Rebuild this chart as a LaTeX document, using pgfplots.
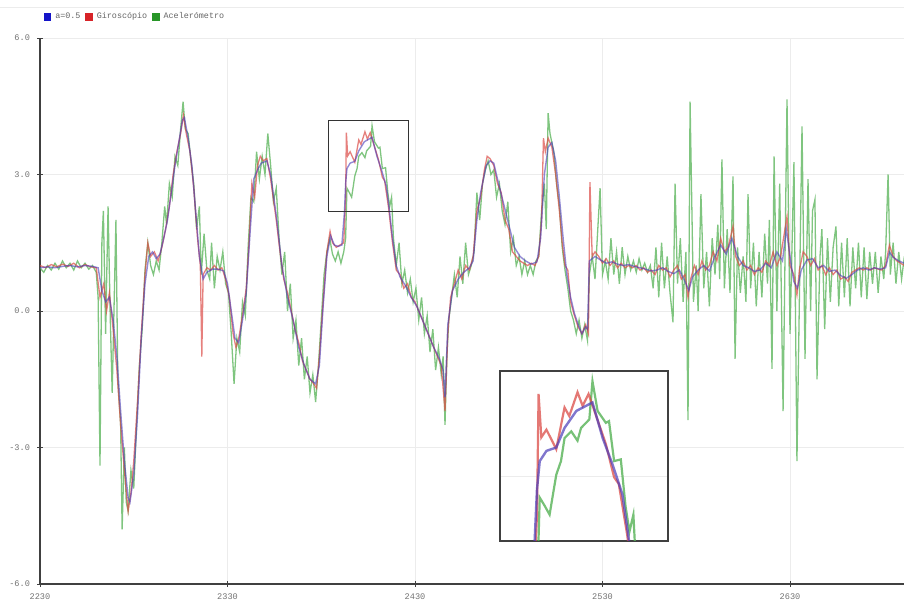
\documentclass[border=0pt]{standalone}
\usepackage{fontspec}
\setmainfont{Liberation Mono}
\usepackage{pgfplots}
\pgfplotsset{compat=1.18}
\usepackage{pgfplotstable}
\definecolor{cblue}{RGB}{75,60,185}
\definecolor{cred}{RGB}{220,75,70}
\definecolor{cgreen}{RGB}{85,178,85}
\definecolor{lblue}{RGB}{20,20,200}
\definecolor{lred}{RGB}{215,35,40}
\definecolor{lgreen}{RGB}{40,150,40}
\definecolor{gridc}{RGB}{236,236,236}

\pgfplotstableread{
x y
2230 0.95
2234 0.97
2238 0.95
2242 0.98
2246 1.0
2250 0.97
2254 1.0
2258 0.98
2261 0.95
2263 0.45
2265 0.2
2267 0.3
2269 -0.2
2271 -1.0
2273 -2.2
2275 -3.3
2277 -4.1
2278 -4.2
2280 -3.6
2282 -2.3
2284 -0.6
2286 0.6
2288 1.2
2290 1.3
2292 1.15
2294 1.25
2296 1.6
2298 2.0
2300 2.6
2302 3.2
2304 3.7
2306 4.2
2307 4.25
2309 3.8
2311 3.2
2313 2.2
2315 1.2
2317 0.7
2319 0.85
2322 0.92
2325 0.92
2328 0.88
2330 0.6
2332 0.0
2334 -0.6
2336 -0.7
2338 -0.2
2340 0.4
2342 1.7
2344 2.9
2346 3.1
2348 3.25
2351 3.3
2353 3.0
2356 2.1
2359 1.0
2362 0.3
2365 -0.2
2368 -0.8
2371 -1.2
2374 -1.5
2377 -1.6
2379 -1.2
2381 0.1
2383 1.2
2385 1.65
2387 1.45
2389 1.42
2391 1.45
2392.4 2.19
2393 2.8
2393.7 3.13
2395.4 3.25
2397.9 3.29
2400 3.52
2403 3.72
2406.3 3.8
2407.1 3.82
2409.7 3.4
2412.2 3.09
2414.7 2.74
2416.4 2.19
2418 1.6
2420 1.0
2422 0.75
2425 0.55
2428 0.3
2431 0.1
2434 -0.2
2437 -0.5
2440 -0.8
2443 -1.05
2445 -1.3
2446 -1.9
2447.5 -0.3
2450 0.45
2453 0.7
2456 0.85
2459 0.95
2461 1.1
2463 2.0
2465 2.6
2468 3.2
2470 3.3
2472 3.25
2474 2.9
2477 2.4
2480 1.9
2483 1.4
2486 1.2
2489 1.1
2492 1.03
2495 1.08
2497 1.6
2499 3.0
2501 3.6
2503 3.7
2505 3.3
2507 2.5
2509 1.6
2511 0.8
2513 0.3
2515 -0.05
2517 -0.3
2519 -0.5
2521 -0.35
2522 -0.4
2523 1.1
2526 1.2
2529 1.12
2532 1.05
2535 1.08
2538 1.03
2541 1.0
2544 1.02
2547 0.98
2550 0.95
2553 0.92
2556 0.88
2559 0.9
2562 0.95
2565 0.87
2568 0.82
2571 0.9
2574 0.65
2576 0.45
2578 0.75
2581 0.9
2584 1.0
2587 0.88
2590 1.2
2593 1.45
2596 1.25
2599 1.6
2602 1.2
2605 1.0
2608 0.95
2611 0.87
2614 0.9
2617 1.05
2620 0.95
2623 1.3
2626 1.1
2628 1.8
2630 1.2
2632 0.65
2634 0.5
2636 0.9
2639 1.12
2642 1.15
2645 0.95
2648 1.0
2651 0.87
2654 0.9
2657 0.78
2660 0.72
2663 0.8
2666 0.9
2669 0.95
2672 0.9
2675 0.95
2678 0.92
2681 0.95
2683 1.3
2685 1.18
2688 1.1
2691 1.05
}\datablue

\pgfplotstableread{
x y
2230 1.0
2233 0.95
2236 1.02
2239 0.97
2242 1.03
2245 0.98
2248 1.05
2251 0.95
2254 1.02
2257 0.97
2260 0.95
2262 0.3
2264 0.6
2265.5 0.0
2267 0.4
2269 -0.4
2271 -1.3
2273 -2.5
2275 -3.5
2277 -4.4
2278.5 -4.0
2280 -3.3
2282 -2.0
2284 -0.5
2286 0.8
2287.5 1.5
2289 1.2
2291 1.3
2293 1.1
2295 1.4
2297 1.8
2299 2.3
2301 3.0
2303 3.5
2305 3.9
2306.5 4.3
2308 3.9
2310 3.5
2312 2.7
2314 1.6
2315.5 1.0
2316.3 -1.0
2317 0.8
2319 0.95
2321 0.9
2323 1.0
2325 0.9
2327 0.95
2329 0.7
2331 0.3
2333 -0.5
2334.5 -0.8
2336 -0.6
2338 -0.1
2340 0.5
2341.5 1.5
2343 2.8
2344.5 2.5
2346 3.2
2347.5 3.4
2349 3.3
2351 3.35
2353 2.9
2356 2.0
2358 1.3
2360 0.7
2362 0.4
2364 0.0
2366 -0.4
2368 -0.7
2370 -1.1
2372 -1.3
2374 -1.5
2376 -1.6
2377.5 -1.7
2379 -1.0
2381 0.2
2383 1.3
2384.7 1.75
2386 1.5
2388 1.4
2390 1.45
2392 1.5
2393 2.5
2393.4 3.92
2394.1 3.41
2395.4 3.5
2397.9 3.27
2400 3.76
2401.2 3.66
2403.3 3.94
2404.6 3.78
2406.1 3.92
2406.7 3.84
2408.5 3.6
2410.5 3.33
2412.6 2.94
2413.8 2.86
2415.9 2.27
2418 1.5
2420 0.9
2422 0.8
2424 0.5
2426 0.6
2428 0.3
2430 0.2
2432 0.0
2434 -0.2
2436 -0.4
2438 -0.6
2440 -0.8
2442 -1.0
2444 -1.2
2446 -2.2
2447.5 -0.5
2449 0.3
2451 0.6
2453 0.9
2455 0.7
2457 1.0
2459 0.9
2461 1.2
2463 2.2
2465 2.5
2467 3.1
2468.5 3.4
2470 3.35
2472 3.2
2474 2.8
2476 2.6
2478 2.0
2480 1.8
2482 1.3
2484 1.2
2486 1.1
2488 1.05
2490 1.0
2492 1.05
2494 1.0
2496 1.2
2497.5 2.0
2498.5 3.8
2499.5 3.5
2501 3.8
2503 3.6
2505 3.0
2507 2.2
2508.5 1.5
2510 1.0
2511.5 0.9
2513 0.2
2515 -0.1
2517 -0.35
2519 -0.5
2521 -0.3
2522.5 -0.5
2523.3 2.83
2524.5 1.2
2526 1.3
2528 1.2
2530 1.05
2532 1.15
2534 1.0
2536 1.1
2538 0.95
2540 1.05
2542 0.95
2544 1.0
2546 0.95
2548 1.0
2550 0.9
2552 0.95
2554 0.85
2556 0.9
2558 0.8
2560 1.0
2562 0.9
2564 0.95
2566 0.75
2568 0.9
2570 1.0
2572 0.7
2574 0.8
2575.6 0.3
2577 0.7
2579 1.0
2581 0.8
2583 1.1
2585 0.9
2587 1.0
2589 1.3
2591 1.1
2593 1.6
2595 1.3
2597 1.4
2599.6 1.86
2601 1.2
2603 1.0
2605 1.1
2607 0.9
2609 1.0
2611 0.8
2613 0.95
2615 0.85
2617 1.1
2619 1.0
2621 1.3
2623 1.0
2625 1.2
2628.4 2.08
2630 1.0
2632 0.8
2633.7 0.35
2635 0.9
2637 1.3
2639 1.2
2641 1.0
2643 1.15
2645 0.9
2647 1.0
2649 0.8
2651 0.95
2653 0.8
2655 0.9
2657 0.7
2659 0.75
2661 0.65
2663 0.85
2665 0.9
2667 0.95
2669 0.9
2671 0.95
2673 0.9
2675 0.95
2677 0.92
2679 0.9
2681 1.0
2683 1.45
2685 1.2
2687 1.1
2689 1.05
2691 1.0
}\datared

\pgfplotstableread{
x y
2230 0.95
2232 0.85
2234 1.0
2236 0.9
2238 1.05
2240 0.92
2242 1.1
2244 0.95
2246 1.05
2248 0.9
2250 1.1
2252 0.95
2254 1.05
2256 0.92
2258 1.0
2260 0.85
2261 0.3
2262 -3.4
2263 1.5
2263.8 2.2
2265 -0.5
2266.3 2.3
2267.5 -0.2
2268.5 -1.8
2270.5 2.0
2271.5 -1.5
2273 -2.5
2273.8 -4.8
2275 -3.0
2276 -4.2
2277 -4.4
2278.5 -3.5
2280 -3.9
2281.5 -2.5
2283 -1.2
2284.5 -0.4
2286 0.9
2287.5 1.5
2289 1.0
2290.5 0.8
2292 1.1
2293.5 0.9
2295 1.5
2296.5 2.3
2297.5 1.9
2299 2.8
2300.5 2.5
2302 3.4
2303.5 3.2
2305 4.0
2306.3 4.6
2307.5 4.0
2309 3.9
2310.5 3.3
2312 2.8
2313.5 1.8
2315 2.3
2316 0.8
2317.5 1.7
2319 0.9
2320.5 0.7
2321.5 1.5
2323 0.5
2324.5 1.2
2326 0.9
2327.5 1.3
2329 0.6
2330.5 0.4
2332 -0.5
2333.5 -1.6
2335 -0.6
2336.5 -0.9
2338 0.2
2339.5 -0.1
2341 1.4
2342.5 2.5
2344 2.4
2345.5 3.5
2347 2.9
2348.5 3.4
2350 3.0
2351.5 3.9
2353 3.2
2354.5 2.4
2356 2.7
2357.5 1.6
2359 0.8
2360.5 1.3
2362 0.0
2363.5 0.6
2365 -0.6
2366.5 -0.2
2368 -1.2
2369.5 -0.6
2371 -1.5
2372.5 -1.0
2374 -1.8
2375.5 -1.4
2377 -2.0
2378.5 -1.2
2380 -0.2
2381.5 0.8
2383 1.3
2384.5 1.6
2386 1.25
2387.5 1.1
2389 1.3
2390.5 1.05
2392 1.3
2393 1.6
2393.7 2.7
2395 2.6
2396.2 2.5
2397.9 2.97
2399.1 3.13
2400 3.4
2401.7 3.48
2403.3 3.37
2404.2 3.52
2406.3 3.62
2407.1 4.07
2408.4 3.72
2410.5 3.58
2411.3 3.6
2412.6 3.13
2414.3 3.15
2415.5 2.6
2416.5 2.3
2417.5 2.5
2418.5 1.6
2420 1.0
2421.5 1.5
2423 0.6
2424.5 0.9
2426 0.4
2427.5 0.7
2429 0.2
2430.5 0.5
2432 -0.2
2433.5 0.3
2435 -0.5
2436.5 -0.1
2438 -0.9
2439.5 -0.4
2441 -1.3
2442.5 -0.8
2444 -1.4
2445 -1.0
2446 -2.5
2447 -1.0
2448 -0.2
2449.5 0.3
2451 0.8
2452.5 0.3
2454 1.2
2455.5 0.6
2457 1.5
2458.5 0.8
2460 1.0
2461.5 1.3
2463 2.6
2464.5 2.0
2466 2.8
2467.5 3.1
2469 3.3
2470.5 3.0
2472 3.1
2473.5 2.5
2475 2.8
2476.5 2.2
2478 1.9
2479.5 2.4
2481 1.3
2482.5 1.6
2484 1.0
2485.5 1.2
2487 0.8
2488.5 1.1
2490 0.8
2491.5 1.0
2493 0.8
2494.5 1.1
2496 1.2
2497.5 2.2
2499 2.8
2500 1.8
2501 4.35
2502 3.9
2503 3.7
2504 3.5
2505.5 2.8
2507 2.3
2508.5 1.4
2510 0.9
2511.5 0.5
2513 0.0
2514.5 -0.2
2516 -0.5
2517.5 -0.2
2519 -0.6
2520.5 -0.3
2522 -0.65
2523 0.8
2524.5 1.2
2526 0.7
2528.7 2.7
2530 0.8
2531.5 1.1
2533 0.7
2534.5 1.6
2536 0.8
2537.5 1.3
2539 0.6
2540.5 1.4
2542 0.8
2543.5 1.2
2545 0.9
2546.5 1.1
2548 0.85
2549.5 1.15
2551 0.9
2552.5 1.05
2554 0.85
2555.5 1.0
2557 0.5
2558.5 1.4
2560 0.3
2561.5 1.5
2563 0.5
2564.5 1.2
2566 0.4
2567.6 -0.25
2568.7 2.8
2570 0.6
2571.5 1.6
2573 0.2
2574.5 1.3
2575.6 -2.4
2576.7 4.6
2578.5 0.2
2580 1.0
2581 0.0
2582.5 2.57
2584 0.5
2585.5 1.3
2587 0.1
2588.5 1.6
2590 0.8
2591.5 1.9
2592.5 0.7
2593.7 3.33
2595 0.5
2596.5 1.8
2598 0.4
2599.6 2.96
2600.7 -1.05
2602 1.4
2603.5 0.4
2605 1.2
2606.5 0.2
2607.6 2.57
2609 0.5
2610.5 1.5
2612 0.1
2613.5 1.3
2615 0.3
2616.5 1.7
2618 0.6
2619 2.0
2620.4 -1.27
2621.5 3.4
2623 0.0
2624.5 2.8
2626.3 -2.2
2628.4 4.65
2630 -0.5
2632.1 3.27
2633.7 -3.3
2636.4 4.06
2638 -1.05
2639.6 2.9
2641 0.0
2642 2.2
2643.3 2.45
2644.4 -1.5
2646 1.2
2647 1.8
2648.5 -0.4
2650 1.6
2651.5 0.2
2653 1.4
2654.5 1.86
2656 0.1
2657.5 1.5
2659 0.3
2660.5 1.6
2662 0.1
2663.5 1.4
2665 0.5
2666.5 1.5
2668 0.3
2669.5 1.4
2671 0.26
2672.5 1.3
2674 0.6
2675.5 1.3
2677 0.4
2678.5 1.2
2680 0.7
2681 1.3
2682.3 3.0
2683.5 0.8
2685 1.5
2686.5 0.6
2688 1.3
2689.5 0.7
2691 1.2
}\datagreen

\begin{document}
\begin{tikzpicture}
\useasboundingbox (0,0) rectangle (452pt,301.5pt);
\fill[white] (0,0) rectangle (452pt,301.5pt);
\draw[gridc, line width=0.5pt] (0,297.8pt) -- (452pt,297.8pt);
\begin{axis}[
  at={(20pt,9.5pt)}, anchor=south west,
  scale only axis, width=432pt, height=273pt,
  xmin=2230, xmax=2690.8, ymin=-6, ymax=6,
  axis lines=left,
  axis line style={-, black!75, line width=0.6pt},
  xtick={2230,2330,2430,2530,2630},
  ytick={-6,-3,0,3,6},
  grid=major, grid style={gridc, line width=0.4pt},
  tick align=center, major tick length=3pt,
  tick style={black!75, line width=0.4pt},
  tick label style={font=\fontsize{4.3}{5}\selectfont, text=black!55},
  /pgf/number format/assume math mode=true,
  x tick label style={/pgf/number format/1000 sep={}},
  y tick label style={/pgf/number format/.cd, fixed, fixed zerofill, precision=1},
  legend image code/.code={\fill[#1] (0pt,-1.5pt) rectangle (3.3pt,1.8pt);},
  legend style={at={(axis description cs:0.004,1)}, anchor=south west, yshift=6pt,
    draw=none, fill=none, inner sep=0pt, text=black!60, font=\fontsize{4.2}{5}\selectfont,
    /tikz/every even column/.append style={column sep=0.5pt}},
  legend columns=-1,
  clip=true,
]
\addlegendimage{lblue}\addlegendentry{a=0.5}
\addlegendimage{lred}\addlegendentry{Giroscópio}
\addlegendimage{lgreen}\addlegendentry{Acelerómetro}
\addplot[forget plot, cgreen, opacity=0.75, line width=0.65pt] table {\datagreen};
\addplot[forget plot, cred, opacity=0.7, line width=0.65pt] table {\datared};
\addplot[forget plot, cblue, opacity=0.6, line width=0.7pt] table {\datablue};
\draw[black!80, line width=0.5pt] (axis cs:2383.6,2.19) rectangle (axis cs:2426.3,4.19);
\end{axis}
\begin{axis}[
  at={(250pt,31pt)}, anchor=south west,
  scale only axis, width=84pt, height=85pt,
  xmin=2383.6, xmax=2426.3, ymin=2.19, ymax=4.19,
  xtick=\empty, ytick={2.95}, yticklabels={}, major tick length=0pt,
  ymajorgrids, grid style={gridc, line width=0.5pt},
  axis background/.style={fill=white},
  axis line style={black!75, line width=0.6pt},
  clip=true,
]
\addplot[cgreen, opacity=0.8, line width=1.1pt] table {\datagreen};
\addplot[cred, opacity=0.75, line width=1.1pt] table {\datared};
\addplot[cblue, opacity=0.7, line width=1.2pt] table {\datablue};
\end{axis}
\end{tikzpicture}
\end{document}
